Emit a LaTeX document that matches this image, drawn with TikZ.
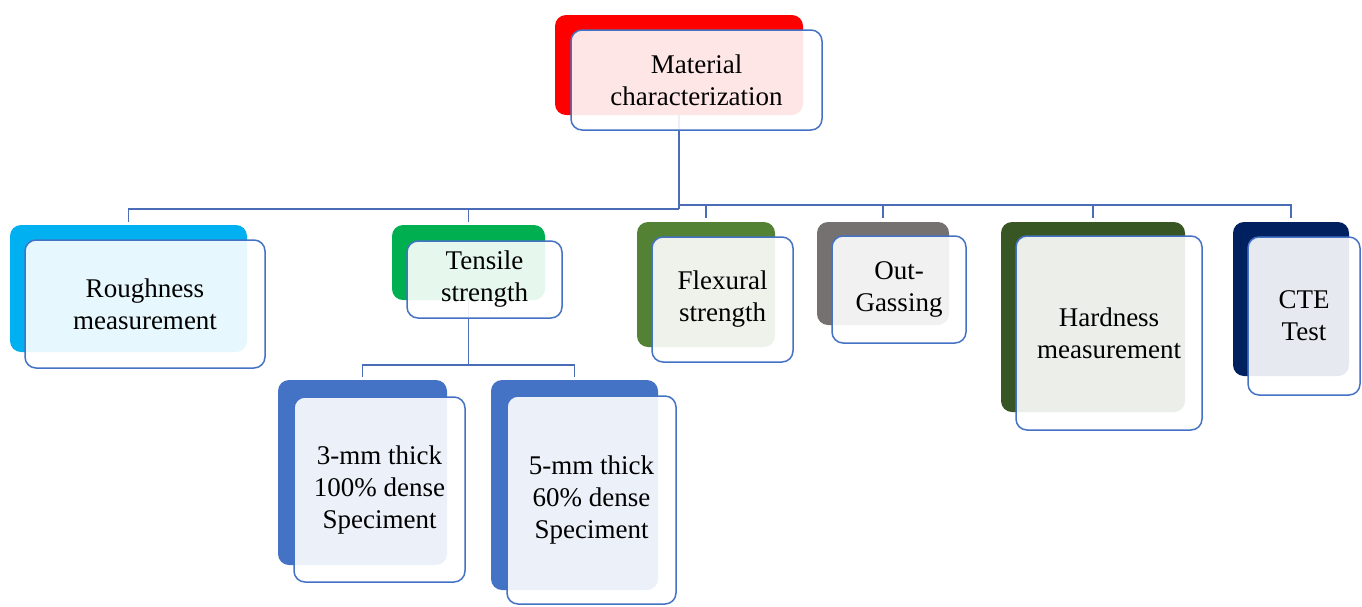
\documentclass[tikz,border=0pt]{standalone}
\usepackage{fontspec}
\setmainfont{Liberation Serif}
\usetikzlibrary{calc}
\definecolor{cred}{HTML}{FF0000}
\definecolor{ccyan}{HTML}{00B0F0}
\definecolor{cgreen}{HTML}{00B050}
\definecolor{cblue}{HTML}{4472C4}
\definecolor{cflex}{HTML}{548235}
\definecolor{cgray}{HTML}{767171}
\definecolor{chard}{HTML}{375623}
\definecolor{cnavy}{HTML}{002060}
\definecolor{cline}{HTML}{4A6DB5}
\tikzset{
  backbox/.style={rounded corners=11, inner sep=0, draw=none},
  frontbox/.style={rounded corners=11, inner sep=0, draw=cblue, line width=1.5,
    fill=white, fill opacity=0.9, text opacity=1, align=center,
    font=\fontsize{27}{32}\selectfont},
  conn/.style={draw=cline, line width=1.8}
}
\begin{document}
\begin{tikzpicture}[x=1pt,y=-1pt]
\useasboundingbox (0,0) rectangle (1362,606);
% back boxes
\node[backbox, fill=cred,  minimum width=248, minimum height=100] (mcb) at (679,65) {};
\node[backbox, fill=ccyan, minimum width=237, minimum height=127] (rb) at (128.5,288.5) {};
\node[backbox, fill=cgreen,minimum width=153, minimum height=75]  (tb) at (468.5,262.5) {};
\node[backbox, fill=cblue, minimum width=169, minimum height=185] (s3b) at (362.5,472.5) {};
\node[backbox, fill=cblue, minimum width=167, minimum height=210] (s5b) at (574.5,485) {};
\node[backbox, fill=cflex, minimum width=138, minimum height=125] (fb) at (706,284.5) {};
\node[backbox, fill=cgray, minimum width=132, minimum height=103] (ob) at (883,273.5) {};
\node[backbox, fill=chard, minimum width=184, minimum height=190] (hb) at (1093,317) {};
\node[backbox, fill=cnavy, minimum width=116, minimum height=154] (cb) at (1291,299) {};
% connectors
\coordinate (jl) at (679,209);
\coordinate (jr) at (679,205);
\coordinate (jt) at (468.5,365);
\draw[conn] (mcb.south) -- (jl);
\draw[conn] (jl) -| ($(rb.north)+(0,-3)$);
\draw[conn] (jl) -| ($(tb.north)+(0,-3)$);
\draw[conn] (jr) -| ($(fb.north)+(0,-4)$);
\draw[conn] (jr) -| ($(ob.north)+(0,-4)$);
\draw[conn] (jr) -| ($(hb.north)+(0,-4)$);
\draw[conn] (jr) -| ($(cb.north)+(0,-4)$);
\draw[conn] (tb.south) -- (jt);
\draw[conn] (jt) -| ($(s3b.north)+(0,-3)$);
\draw[conn] (jt) -| ($(s5b.north)+(0,-3)$);
% front boxes
\node[frontbox, minimum width=251, minimum height=100] (mc) at (696.5,80) {Material\\characterization};
\node[frontbox, minimum width=240, minimum height=128] (r) at (145,304) {Roughness\\measurement};
\node[frontbox, minimum width=155, minimum height=77]  (t) at (484.5,279.5) {Tensile\\strength};
\node[frontbox, minimum width=171, minimum height=185] (s3) at (379.5,489.5) {3-mm thick\\100\% dense\\Speciment};
\node[frontbox, minimum width=169, minimum height=208] (s5) at (591.5,500) {5-mm thick\\60\% dense\\Speciment};
\node[frontbox, minimum width=141, minimum height=125] (f) at (722.5,299.5) {Flexural\\strength};
\node[frontbox, minimum width=134, minimum height=107] (o) at (899,289.5) {Out-\\Gassing};
\node[frontbox, minimum width=186, minimum height=194] (h) at (1109,333) {Hardness\\measurement};
\node[frontbox, minimum width=112, minimum height=158] (c) at (1304,316) {CTE\\Test};
\end{tikzpicture}
\end{document}
